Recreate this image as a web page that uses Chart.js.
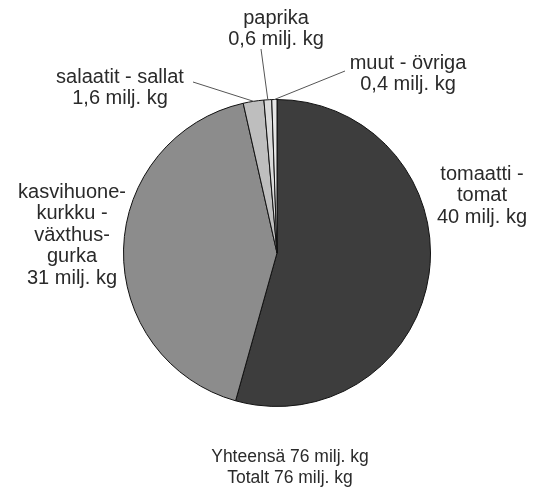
<!DOCTYPE html>
<html>
<head>
<meta charset="utf-8">
<script src="https://cdn.jsdelivr.net/npm/chart.js@4.4.0/dist/chart.umd.min.js"></script>
<style>
    html, body { margin: 0; padding: 0; background: #fff; }
    #wrap { width: 537px; height: 495px; position: relative; }
</style>
</head>
<body>
<div id="wrap"><canvas id="chart" width="537" height="495"></canvas></div>
<script>
    'use strict';

    // Data (milj. kg)
    var categories = ['tomaatti - tomat', 'kasvihuonekurkku - växthusgurka', 'salaatit - sallat', 'paprika', 'muut - övriga'];
    var values = [40, 31, 1.6, 0.6, 0.4];
    var sliceColors = ['#3d3d3d', '#8c8c8c', '#bebebe', '#dadada', '#e6e6e6'];

    // Label text per slice
    var labelLines = [
        ['tomaatti -', 'tomat', '40 milj. kg'],
        ['kasvihuone-', 'kurkku -', 'växthus-', 'gurka', '31 milj. kg'],
        ['salaatit - sallat', '1,6 milj. kg'],
        ['paprika', '0,6 milj. kg'],
        ['muut - övriga', '0,4 milj. kg']
    ];
    var totalLines = ['Yhteensä 76 milj. kg', 'Totalt 76 milj. kg'];

    // Label placement (layout only)
    var labelPos = [
        { x: 482, y: 174, leader: null },
        { x: 72, y: 192, leader: null },
        { x: 120, y: 77, leader: { x: 193, y: 82 } },
        { x: 276, y: 18, leader: { x: 261, y: 49 } },
        { x: 408, y: 63, leader: { x: 345, y: 71 } }
    ];

    var labelPlugin = {
        id: 'pieLabels',
        afterDatasetsDraw: function (chart) {
            var ctx = chart.ctx;
            var meta = chart.getDatasetMeta(0);
            ctx.save();
            ctx.fillStyle = '#2a2a2a';
            ctx.textAlign = 'center';
            ctx.textBaseline = 'middle';
            ctx.font = '20px "Liberation Sans", Arial, sans-serif';

            meta.data.forEach(function (arc, i) {
                var pos = labelPos[i];
                labelLines[i].forEach(function (line, j) {
                    ctx.fillText(line, pos.x, pos.y + j * 21.5);
                });
                if (pos.leader) {
                    var mid = (arc.startAngle + arc.endAngle) / 2;
                    var ex = arc.x + Math.cos(mid) * arc.outerRadius;
                    var ey = arc.y + Math.sin(mid) * arc.outerRadius;
                    ctx.strokeStyle = '#555';
                    ctx.lineWidth = 1;
                    ctx.beginPath();
                    ctx.moveTo(pos.leader.x, pos.leader.y);
                    ctx.lineTo(ex, ey);
                    ctx.stroke();
                }
            });

            ctx.font = '17.5px "Liberation Sans", Arial, sans-serif';
            totalLines.forEach(function (line, j) {
                ctx.fillText(line, 290, 457 + j * 21);
            });
            ctx.restore();
        }
    };

    new Chart(document.getElementById('chart').getContext('2d'), {
        type: 'pie',
        data: {
            labels: categories,
            datasets: [{
                data: values,
                backgroundColor: sliceColors,
                borderColor: '#111',
                borderWidth: 1
            }]
        },
        options: {
            responsive: false,
            animation: false,
            layout: {
                padding: { left: 123, right: 106, top: 99, bottom: 88 }
            },
            plugins: {
                legend: { display: false },
                tooltip: { enabled: false }
            }
        },
        plugins: [labelPlugin]
    });
</script>
</body>
</html>
